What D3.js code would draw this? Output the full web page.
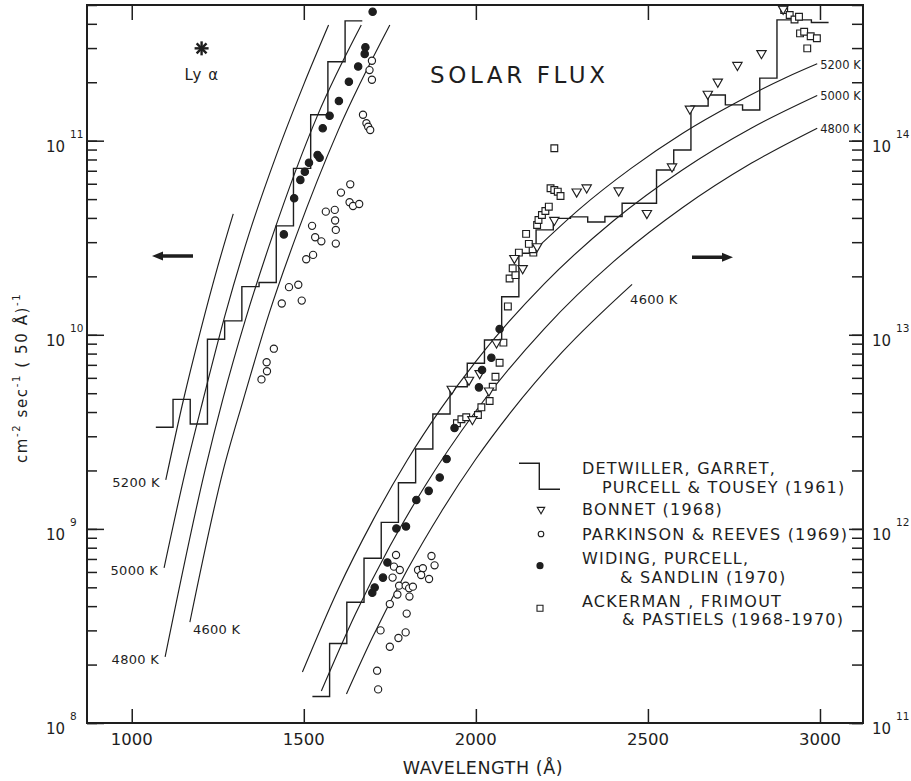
<!DOCTYPE html>
<html>
<head>
<meta charset="utf-8">
<script src="https://cdn.jsdelivr.net/npm/d3@7"></script>
<style>
  body { margin: 0; background: #fff; }
  text { font-family: "DejaVu Sans", sans-serif; fill: #1e1e1e; }
</style>
</head>
<body>
<div id="chart"></div>
<script>

// DATA. Wavelength in Angstrom, flux in cm-2 sec-1 (50 A)-1.
// left group is read on the left axis, right group on the right axis (x1000)

var xTickValues = [1000, 1500, 2000, 2500, 3000];
var leftDecades = [8, 9, 10, 11];
var rightDecades = [11, 12, 13, 14];

// Detwiller, Garret, Purcell & Tousey (1961): 50 A histogram
var detwillerLeftEdges = [1070, 1120, 1170, 1220, 1270, 1320, 1370, 1420, 1470, 1520, 1570, 1620, 1670];
var detwillerLeftFlux = [3.34e9, 4.65e9, 3.47e9, 9.48e9, 1.18e10, 1.77e10, 1.86e10, 3.64e10, 7.2e10, 1.36e11, 2.55e11, 4.14e11];
var detwillerRightEdges = [1525, 1575, 1625, 1675, 1725, 1775, 1825, 1875, 1925, 1975, 2025, 2075, 2125, 2175, 2225, 2275,
  2325, 2375, 2425, 2475, 2525, 2575, 2625, 2675, 2725, 2775, 2825, 2875, 2925, 2975, 3025];
var detwillerRightFlux = [1.37e11, 2.57e11, 4.19e11, 7.06e11, 1.08e12, 1.73e12, 2.58e12, 3.91e12, 5.40e12, 7.13e12,
  9.40e12, 1.57e13, 2.63e13, 3.47e13, 3.98e13, 4.05e13, 3.81e13, 4.07e13, 4.76e13, 4.76e13, 7.06e13, 8.96e13,
  1.51e14, 1.72e14, 1.53e14, 1.44e14, 2.10e14, 4.19e14, 4.19e14, 4.06e14];

// black body curves
var tempLabels = ["5200 K", "5000 K", "4800 K", "4600 K"];
var leftCurve5200 = [[1099, 1.79e9], [1150, 4.6e9], [1200, 1.05e10], [1250, 2.25e10], [1295, 4.2e10]];
var leftCurve5000 = [[1094, 6.3e8], [1155, 1.95e9], [1207, 4.6e9], [1270, 1.24e10], [1340, 3.27e10], [1420, 8.4e10], [1500, 1.95e11], [1572, 3.94e11]];
var leftCurve4800 = [[1097, 2.19e8], [1213, 2.01e9], [1264, 4.61e9], [1330, 1.19e10], [1410, 3.27e10], [1540, 1.35e11], [1667, 3.94e11]];
var leftCurve4600 = [[1169, 3.31e8], [1266, 2.01e9], [1324, 4.61e9], [1400, 1.3e10], [1479, 3.27e10], [1600, 1.13e11], [1750, 3.94e11]];
var rightCurve5200 = [[2190, 2.94e13], [2300, 4.43e13], [2450, 7.18e13], [2600, 1.09e14], [2750, 1.55e14], [2900, 2.11e14], [2992, 2.49e14]];
var rightCurve5000 = [[1496, 1.83e11], [1600, 4.89e11], [1700, 1.10e12], [1800, 2.25e12], [1900, 4.20e12], [2000, 7.30e12],
  [2200, 1.84e13], [2400, 3.87e13], [2600, 7.07e13], [2800, 1.16e14], [2992, 1.71e14]];
var rightCurve4800 = [[1551, 1.46e11], [1650, 3.64e11], [1750, 8.13e11], [1850, 1.64e12], [2000, 4.05e12], [2200, 1.08e13],
  [2400, 2.38e13], [2600, 4.51e13], [2800, 7.64e13], [2992, 1.16e14]];
var rightCurve4600 = [[1624, 1.41e11], [1700, 2.77e11], [1800, 6.12e11], [1900, 1.23e12], [2000, 2.29e12], [2100, 3.96e12], [2250, 8.11e12], [2454, 1.82e13]];

// Lyman alpha
var lyAlpha = [[1203, 2.99e11]];

// Widing, Purcell & Sandlin (1970)
var widingLeft = [[1700, 4.62e11], [1679, 3.03e11], [1677, 2.80e11], [1658, 2.41e11], [1631, 2.01e11], [1602, 1.60e11],
  [1575, 1.345e11], [1555, 1.16e11], [1540, 8.44e10], [1546, 8.17e10], [1515, 7.70e10], [1503, 6.92e10], [1490, 6.28e10],
  [1472, 5.05e10], [1442, 3.29e10]];
var widingRight = [[1699, 4.69e11], [1706, 4.99e11], [1730, 5.61e11], [1743, 6.71e11], [1769, 1.005e12], [1797, 1.03e12],
  [1827, 1.41e12], [1863, 1.57e12], [1895, 1.84e12], [1915, 2.29e12], [1938, 3.31e12], [2009, 5.36e12], [2018, 6.59e12],
  [2045, 7.62e12], [2069, 1.07e13]];

// Parkinson & Reeves (1969)
var parkinsonLeft = [[1698, 2.58e11], [1691, 2.31e11], [1698, 2.06e11], [1672, 1.36e11], [1682, 1.23e11], [1687, 1.18e11],
  [1693, 1.135e11], [1635, 5.96e10], [1608, 5.40e10], [1633, 4.82e10], [1643, 4.61e10], [1661, 4.72e10], [1590, 4.40e10],
  [1564, 4.31e10], [1591, 3.88e10], [1524, 3.64e10], [1593, 3.47e10], [1533, 3.18e10], [1551, 3.03e10], [1593, 2.95e10],
  [1527, 2.58e10], [1507, 2.45e10], [1484, 1.81e10], [1457, 1.76e10], [1494, 1.50e10], [1436, 1.45e10], [1413, 8.48e9],
  [1392, 7.22e9], [1393, 6.49e9], [1377, 5.89e9]];
var parkinsonRight = [[1768, 7.34e11], [1762, 6.39e11], [1758, 5.61e11], [1779, 6.14e11], [1871, 7.25e11], [1880, 6.49e11],
  [1832, 6.14e11], [1846, 6.27e11], [1841, 5.79e11], [1864, 5.52e11], [1777, 5.10e11], [1796, 5.10e11], [1806, 4.94e11],
  [1817, 5.04e11], [1772, 4.59e11], [1807, 4.48e11], [1750, 4.10e11], [1799, 3.66e11], [1723, 3.00e11], [1796, 2.93e11],
  [1775, 2.74e11], [1750, 2.47e11], [1713, 1.86e11], [1716, 1.49e11]];

// Bonnet (1968)
var bonnetRight = [[1930, 5.26e12], [1980, 5.85e12], [2011, 6.33e12], [2038, 5.15e12], [1990, 3.67e12], [2060, 9.11e12],
  [2112, 2.48e13], [2136, 2.20e13], [2178, 2.85e13], [2228, 3.90e13], [2293, 5.46e13], [2322, 5.73e13], [2415, 5.53e13],
  [2497, 4.23e13], [2570, 7.35e13], [2622, 1.46e14], [2674, 1.74e14], [2703, 2.01e14], [2760, 2.45e14], [2830, 2.82e14],
  [2893, 4.77e14]];

// Ackerman, Frimout & Pastiels (1968-1970)
var ackermanRight = [[1945, 3.50e12], [1958, 3.67e12], [1972, 3.76e12], [2006, 3.86e12], [2016, 4.23e12], [2040, 4.56e12],
  [2049, 5.40e12], [2057, 6.08e12], [2069, 7.18e12], [2080, 9.11e12], [2093, 1.40e13], [2098, 1.95e13], [2115, 2.03e13],
  [2107, 2.20e13], [2125, 2.65e13], [2167, 2.65e13], [2165, 2.76e13], [2154, 2.94e13], [2146, 3.31e13], [2178, 3.68e13],
  [2182, 3.90e13], [2192, 4.14e13], [2202, 4.34e13], [2212, 4.57e13], [2217, 5.69e13], [2228, 5.57e13], [2238, 5.46e13],
  [2246, 5.19e13], [2228, 9.14e13], [2896, 4.71e14], [2912, 4.44e14], [2926, 4.21e14], [2939, 4.35e14], [2942, 3.57e14],
  [2954, 3.64e14], [2973, 3.45e14], [2991, 3.37e14], [2963, 2.99e14]];

var legendTitles = [
  ["DETWILLER, GARRET,", "PURCELL  &  TOUSEY (1961)"],
  ["BONNET  (1968)"],
  ["PARKINSON  &  REEVES (1969)"],
  ["WIDING, PURCELL,", "&  SANDLIN (1970)"],
  ["ACKERMAN , FRIMOUT", "&  PASTIELS (1968-1970)"]
];


function drawChart() {

  var width = 911,
      height = 781;
  var margin = { top: 5, right: 48, bottom: 58, left: 87 };
  var plotW = width - margin.left - margin.right,
      plotH = height - margin.top - margin.bottom;
  var ink = "#1e1e1e";

  var x = d3.scaleLinear().domain([870, 3125]).range([margin.left, margin.left + plotW]);
  var yLeft = d3.scaleLog().domain([1e8, 5e11]).range([margin.top + plotH, margin.top]);
  var yRight = d3.scaleLog().domain([1e11, 5e14]).range([margin.top + plotH, margin.top]);

  var svg = d3.select("#chart")
    .append("svg")
    .attr("width", width)
    .attr("height", height);

  //AXES
  function styleAxis(g) {
    g.select(".domain").remove();
    g.selectAll(".tick line").attr("stroke", ink).attr("stroke-width", 1.5);
    g.selectAll(".tick text").remove();
  }
  var leftMajor = leftDecades.map(function(e) { return Math.pow(10, e); });
  var rightMajor = rightDecades.map(function(e) { return Math.pow(10, e); });

  svg.append("g")
    .attr("transform", "translate(" + margin.left + ",0)")
    .call(d3.axisRight(yLeft).tickValues(yLeft.ticks()).tickSize(10).tickSizeOuter(0))
    .call(styleAxis);
  svg.append("g")
    .attr("transform", "translate(" + margin.left + ",0)")
    .call(d3.axisRight(yLeft).tickValues(leftMajor).tickSize(17).tickSizeOuter(0))
    .call(styleAxis);
  svg.append("g")
    .attr("transform", "translate(" + (margin.left + plotW) + ",0)")
    .call(d3.axisLeft(yRight).tickValues(yRight.ticks()).tickSize(11).tickSizeOuter(0))
    .call(styleAxis);
  svg.append("g")
    .attr("transform", "translate(" + (margin.left + plotW) + ",0)")
    .call(d3.axisLeft(yRight).tickValues(rightMajor).tickSize(14).tickSizeOuter(0))
    .call(styleAxis);
  svg.append("g")
    .attr("transform", "translate(0," + margin.top + ")")
    .call(d3.axisBottom(x).tickValues(xTickValues).tickSize(15).tickSizeOuter(0))
    .call(styleAxis);
  svg.append("g")
    .attr("transform", "translate(0," + (margin.top + plotH) + ")")
    .call(d3.axisTop(x).tickValues(xTickValues).tickSize(14).tickSizeOuter(0))
    .call(styleAxis);

  // frame
  svg.append("rect")
    .attr("x", margin.left)
    .attr("y", margin.top)
    .attr("width", plotW)
    .attr("height", plotH)
    .attr("fill", "none")
    .attr("stroke", ink)
    .attr("stroke-width", 2);

  // x tick labels
  svg.selectAll(".xlabel")
    .data(xTickValues)
    .enter().append("text")
    .attr("class", "xlabel")
    .attr("x", function(d) { return x(d); })
    .attr("y", margin.top + plotH + 22)
    .attr("text-anchor", "middle")
    .style("font-size", "16.5px")
    .text(function(d) { return d; });

  // power of ten labels
  function decadeLabels(decades, scale, x0, cls) {
    var g = svg.append("g").attr("class", cls);
    g.selectAll(".base")
      .data(decades)
      .enter().append("text")
      .attr("x", x0)
      .attr("y", function(d) { return scale(Math.pow(10, d)) + 11; })
      .style("font-size", "15px")
      .text("10");
    g.selectAll(".pow")
      .data(decades)
      .enter().append("text")
      .attr("x", x0 + 24)
      .attr("y", function(d) { return scale(Math.pow(10, d)) - 3; })
      .style("font-size", "10.5px")
      .text(function(d) { return d; });
  }
  decadeLabels(leftDecades, yLeft, 46, "left-labels");
  decadeLabels(rightDecades, yRight, 872, "right-labels");

  // axis titles
  svg.append("text")
    .attr("x", 483)
    .attr("y", 774)
    .attr("text-anchor", "middle")
    .style("font-size", "17.5px")
    .style("letter-spacing", "0.6px")
    .text("WAVELENGTH (Å)");

  var yTitle = svg.append("text")
    .attr("transform", "translate(27,463) rotate(-90)")
    .style("font-size", "15px")
    .style("letter-spacing", "1.6px");
  yTitle.append("tspan").text("cm");
  yTitle.append("tspan").attr("dy", -7).style("font-size", "10px").text("-2");
  yTitle.append("tspan").attr("dy", 7).text(" sec");
  yTitle.append("tspan").attr("dy", -7).style("font-size", "10px").text("-1");
  yTitle.append("tspan").attr("dy", 7).text(" ( 50 Å)");
  yTitle.append("tspan").attr("dy", -7).style("font-size", "10px").text("-1");

  svg.append("text")
    .attr("x", 430)
    .attr("y", 83)
    .style("font-size", "23px")
    .style("letter-spacing", "3.6px")
    .text("SOLAR FLUX");

  //BLACK BODY CURVES
  var lineLeft = d3.line()
    .x(function(d) { return x(d[0]); })
    .y(function(d) { return yLeft(d[1]); })
    .curve(d3.curveMonotoneX);
  var lineRight = d3.line()
    .x(function(d) { return x(d[0]); })
    .y(function(d) { return yRight(d[1]); })
    .curve(d3.curveMonotoneX);

  var leftCurves = [leftCurve5200, leftCurve5000, leftCurve4800, leftCurve4600];
  var rightCurves = [rightCurve5200, rightCurve5000, rightCurve4800, rightCurve4600];

  svg.selectAll(".bb-left")
    .data(leftCurves)
    .enter().append("path")
    .attr("class", "bb-left")
    .attr("d", lineLeft)
    .attr("fill", "none")
    .attr("stroke", ink)
    .attr("stroke-width", 1.15);
  svg.selectAll(".bb-right")
    .data(rightCurves)
    .enter().append("path")
    .attr("class", "bb-right")
    .attr("d", lineRight)
    .attr("fill", "none")
    .attr("stroke", ink)
    .attr("stroke-width", 1.15);

  // temperature labels, left group sit at the low end of each curve
  leftCurves.forEach(function(c, i) {
    var p = c[0];
    var last = (i == 3);
    svg.append("text")
      .attr("x", last ? x(p[0]) + 3 : x(p[0]) - 6)
      .attr("y", last ? yLeft(p[1]) + 12 : yLeft(p[1]) + 7)
      .attr("text-anchor", last ? "start" : "end")
      .style("font-size", "13px")
      .style("letter-spacing", "0.3px")
      .text(tempLabels[i]);
  });
  // right group at the high end
  rightCurves.forEach(function(c, i) {
    var p = c[c.length - 1];
    var last = (i == 3);
    svg.append("text")
      .attr("x", last ? x(p[0]) - 2 : x(p[0]) + 3)
      .attr("y", last ? yRight(p[1]) + 20 : yRight(p[1]) + 5)
      .style("font-size", last ? "13px" : "11.5px")
      .style("letter-spacing", last ? "0.3px" : "0px")
      .text(tempLabels[i]);
  });

  //DETWILLER HISTOGRAM
  function stepPoints(edges, flux) {
    return edges.map(function(e, i) { return [e, flux[Math.min(i, flux.length - 1)]]; });
  }
  svg.append("path")
    .datum(stepPoints(detwillerLeftEdges, detwillerLeftFlux))
    .attr("d", lineLeft.curve(d3.curveStepAfter))
    .attr("fill", "none")
    .attr("stroke", ink)
    .attr("stroke-width", 1.4);
  svg.append("path")
    .datum(stepPoints(detwillerRightEdges, detwillerRightFlux))
    .attr("d", lineRight.curve(d3.curveStepAfter))
    .attr("fill", "none")
    .attr("stroke", ink)
    .attr("stroke-width", 1.4);

  //DATA POINTS
  var triangle = d3.symbol().type(d3.symbolTriangle).size(38);
  var square = d3.symbol().type(d3.symbolSquare).size(46);

  function drawCircles(data, scale, filled, r) {
    svg.append("g").selectAll("circle")
      .data(data)
      .enter().append("circle")
      .attr("cx", function(d) { return x(d[0]); })
      .attr("cy", function(d) { return scale(d[1]); })
      .attr("r", r)
      .attr("fill", filled ? ink : "#fff")
      .attr("stroke", ink)
      .attr("stroke-width", 1.15);
  }
  function drawSymbols(data, scale, sym, rot) {
    svg.append("g").selectAll("path")
      .data(data)
      .enter().append("path")
      .attr("d", sym)
      .attr("transform", function(d) {
        return "translate(" + x(d[0]) + "," + scale(d[1]) + ") rotate(" + rot + ")";
      })
      .attr("fill", "#fff")
      .attr("stroke", ink)
      .attr("stroke-width", 1.15);
  }

  drawCircles(parkinsonLeft, yLeft, false, 3.6);
  drawCircles(parkinsonRight, yRight, false, 3.6);
  drawSymbols(ackermanRight, yRight, square, 0);
  drawSymbols(bonnetRight, yRight, triangle, 180);
  drawCircles(widingLeft, yLeft, true, 3.7);
  drawCircles(widingRight, yRight, true, 3.7);

  // Ly alpha asterisk
  var ly = svg.append("g")
    .attr("transform", "translate(" + x(lyAlpha[0][0]) + "," + yLeft(lyAlpha[0][1]) + ")");
  [0, 45, 90, 135].forEach(function(a) {
    ly.append("line")
      .attr("x1", -7).attr("x2", 7)
      .attr("transform", "rotate(" + a + ")")
      .attr("stroke", ink)
      .attr("stroke-width", 2.4);
  });
  svg.append("text")
    .attr("x", x(lyAlpha[0][0]) - 17)
    .attr("y", yLeft(lyAlpha[0][1]) + 32)
    .style("font-size", "15px")
    .style("letter-spacing", "1px")
    .text("Ly α");

  // axis arrows
  svg.append("path")
    .attr("d", "M152,256 L163,251.5 L163,254.3 L193,254.3 L193,257.7 L163,257.7 L163,260.5 Z")
    .attr("fill", ink);
  svg.append("path")
    .attr("d", "M733,257.3 L722,252.8 L722,255.6 L692,255.6 L692,259 L722,259 L722,261.8 Z")
    .attr("fill", ink);

  //LEGEND
  var legend = svg.append("g").attr("class", "legend");
  var rowY = [474, 515, 540, 564.3, 606.7];
  var indent = [20, 0, 0, 38, 40];
  legendTitles.forEach(function(lines, i) {
    lines.forEach(function(t, j) {
      legend.append("text")
        .attr("x", 582 + (j ? indent[i] : 0))
        .attr("y", rowY[i] + j * 18.5)
        .style("font-size", "16px")
        .style("letter-spacing", "1.2px")
        .text(t);
    });
  });
  legend.append("path")
    .attr("d", "M519,463.3 H539.3 V489.3 H560")
    .attr("fill", "none")
    .attr("stroke", ink)
    .attr("stroke-width", 1.4);
  legend.append("path")
    .attr("d", d3.symbol().type(d3.symbolTriangle).size(24))
    .attr("transform", "translate(541,509.5) rotate(180)")
    .attr("fill", "#fff").attr("stroke", ink).attr("stroke-width", 1.1);
  legend.append("circle")
    .attr("cx", 541).attr("cy", 534).attr("r", 2.8)
    .attr("fill", "#fff").attr("stroke", ink).attr("stroke-width", 1.1);
  legend.append("circle")
    .attr("cx", 540).attr("cy", 565.7).attr("r", 3.6)
    .attr("fill", ink);
  legend.append("path")
    .attr("d", d3.symbol().type(d3.symbolSquare).size(36))
    .attr("transform", "translate(540,608.3)")
    .attr("fill", "#fff").attr("stroke", ink).attr("stroke-width", 1.1);
}

drawChart();
</script>
</body>
</html>
